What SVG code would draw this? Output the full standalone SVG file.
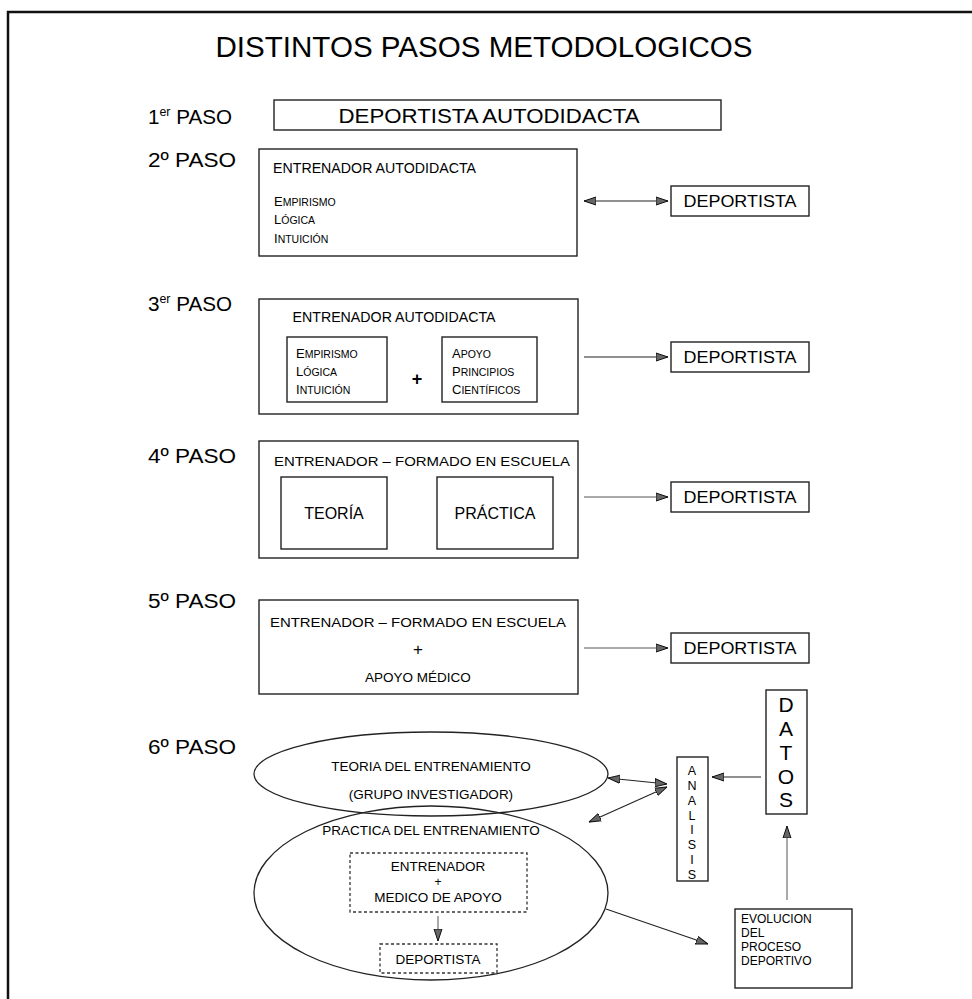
<svg xmlns="http://www.w3.org/2000/svg" width="972" height="999" viewBox="0 0 972 999">
<defs>
<style>
text{font-family:"Liberation Sans",Arial,sans-serif;fill:#000}
.box{fill:#fff;stroke:#222;stroke-width:1.4}
.dbox{fill:#fff;stroke:#333;stroke-width:1.3;stroke-dasharray:3,2.5}
.lbl{font-size:20px}
.con{stroke:#222;stroke-width:1.1;fill:none}
.gcon{stroke:#555;stroke-width:1;fill:none}
.ell{fill:none;stroke:#222;stroke-width:1.3}
.c{text-anchor:middle}
</style>
<marker id="ah" viewBox="0 0 12 10" refX="12" refY="5" markerWidth="12" markerHeight="10" markerUnits="userSpaceOnUse" orient="auto-start-reverse">
<path d="M0,1 L12,5 L0,9 z" fill="#666" stroke="#111" stroke-width="1"/>
</marker>
</defs>
<rect width="972" height="999" fill="#fff"/>
<path d="M8,999 V12 H972" fill="none" stroke="#111" stroke-width="2.5"/>
<text x="484" y="57" class="c" font-size="29" textLength="537" lengthAdjust="spacingAndGlyphs">DISTINTOS PASOS METODOLOGICOS</text>

<g id="paso1">
<text x="148" y="124" class="lbl" textLength="84" lengthAdjust="spacingAndGlyphs">1<tspan font-size="12" dy="-8">er</tspan><tspan dy="8"> PASO</tspan></text>
<rect class="box" x="274" y="100" width="447" height="30"/>
<text x="489" y="123" class="c" font-size="20" textLength="301" lengthAdjust="spacingAndGlyphs">DEPORTISTA AUTODIDACTA</text>
</g>

<g id="paso2">
<text x="148" y="167" class="lbl" textLength="88" lengthAdjust="spacingAndGlyphs">2º PASO</text>
<rect class="box" x="259" y="149" width="318" height="107"/>
<text x="273" y="173" font-size="14" textLength="203" lengthAdjust="spacingAndGlyphs">ENTRENADOR AUTODIDACTA</text>
<text x="274" y="206" font-size="13">E<tspan font-size="10.5">MPIRISMO</tspan></text>
<text x="274" y="224" font-size="13">L<tspan font-size="10.5">ÓGICA</tspan></text>
<text x="274" y="243" font-size="13">I<tspan font-size="10.5">NTUICIÓN</tspan></text>
</g>
<g id="dep2">
<rect class="box" x="671" y="186" width="138" height="30"/>
<text x="740" y="207" class="c" font-size="16" textLength="113" lengthAdjust="spacingAndGlyphs">DEPORTISTA</text>
</g>

<g id="paso3">
<text x="148" y="311" class="lbl" textLength="84" lengthAdjust="spacingAndGlyphs">3<tspan font-size="12" dy="-8">er</tspan><tspan dy="8"> PASO</tspan></text>
<rect class="box" x="259" y="299" width="319" height="115"/>
<text x="394" y="322" class="c" font-size="14" textLength="203" lengthAdjust="spacingAndGlyphs">ENTRENADOR AUTODIDACTA</text>
<rect class="box" x="287" y="337" width="100" height="65"/>
<text x="296" y="358" font-size="13">E<tspan font-size="10.5">MPIRISMO</tspan></text>
<text x="296" y="376" font-size="13">L<tspan font-size="10.5">ÓGICA</tspan></text>
<text x="296" y="394" font-size="13">I<tspan font-size="10.5">NTUICIÓN</tspan></text>
<text x="417" y="385" class="c" font-size="18" font-weight="bold">+</text>
<rect class="box" x="442" y="337" width="95" height="65"/>
<text x="452" y="358" font-size="13">A<tspan font-size="10.5">POYO</tspan></text>
<text x="452" y="376" font-size="13">P<tspan font-size="10.5">RINCIPIOS</tspan></text>
<text x="452" y="394" font-size="13">C<tspan font-size="10.5">IENTÍFICOS</tspan></text>
</g>
<g id="dep3">
<rect class="box" x="671" y="342" width="138" height="30"/>
<text x="740" y="363" class="c" font-size="16" textLength="113" lengthAdjust="spacingAndGlyphs">DEPORTISTA</text>
</g>

<g id="paso4">
<text x="148" y="463" class="lbl" textLength="88" lengthAdjust="spacingAndGlyphs">4º PASO</text>
<rect class="box" x="259" y="441" width="319" height="117"/>
<text x="274" y="466" font-size="13.5" textLength="296" lengthAdjust="spacingAndGlyphs">ENTRENADOR – FORMADO EN ESCUELA</text>
<rect class="box" x="281" y="477" width="106" height="72"/>
<text x="334" y="519" class="c" font-size="16">TEORÍA</text>
<rect class="box" x="437" y="477" width="116" height="72"/>
<text x="495" y="519" class="c" font-size="16">PRÁCTICA</text>
</g>
<g id="dep4">
<rect class="box" x="671" y="482" width="138" height="30"/>
<text x="740" y="503" class="c" font-size="16" textLength="113" lengthAdjust="spacingAndGlyphs">DEPORTISTA</text>
</g>

<g id="paso5">
<text x="148" y="608" class="lbl" textLength="88" lengthAdjust="spacingAndGlyphs">5º PASO</text>
<rect class="box" x="259" y="600" width="319" height="94"/>
<text x="418" y="627" class="c" font-size="13.5" textLength="296" lengthAdjust="spacingAndGlyphs">ENTRENADOR – FORMADO EN ESCUELA</text>
<text x="418" y="655" class="c" font-size="17">+</text>
<text x="418" y="682" class="c" font-size="13.5">APOYO MÉDICO</text>
</g>
<g id="dep5">
<rect class="box" x="671" y="633" width="138" height="30"/>
<text x="740" y="654" class="c" font-size="16" textLength="113" lengthAdjust="spacingAndGlyphs">DEPORTISTA</text>
</g>

<g id="paso6">
<text x="148" y="754" class="lbl" textLength="88" lengthAdjust="spacingAndGlyphs">6º PASO</text>
</g>
<g id="teoria">
<ellipse class="ell" cx="431" cy="774" rx="177" ry="42"/>
<text x="431" y="771" class="c" font-size="13.5">TEORIA DEL ENTRENAMIENTO</text>
<text x="431" y="799" class="c" font-size="13.5">(GRUPO INVESTIGADOR)</text>
</g>
<g id="practica">
<ellipse class="ell" cx="431" cy="893" rx="177" ry="87"/>
<text x="431" y="835" class="c" font-size="13.5">PRACTICA DEL ENTRENAMIENTO</text>
</g>
<g id="entrenador6">
<rect class="dbox" x="350" y="853" width="177" height="59"/>
<text x="438" y="871" class="c" font-size="13.5">ENTRENADOR</text>
<text x="438" y="886" class="c" font-size="12">+</text>
<text x="438" y="902" class="c" font-size="13.5">MEDICO DE APOYO</text>
</g>
<g id="dep6">
<rect class="dbox" x="380" y="944" width="117" height="29"/>
<text x="438" y="964" class="c" font-size="13.5">DEPORTISTA</text>
</g>
<g id="analisis">
<rect class="box" x="677" y="757" width="31" height="124"/>
<g font-size="12.5">
<text x="692" y="775" class="c">A</text>
<text x="692" y="790" class="c">N</text>
<text x="692" y="805" class="c">A</text>
<text x="692" y="820" class="c">L</text>
<text x="692" y="834" class="c">I</text>
<text x="692" y="849" class="c">S</text>
<text x="692" y="864" class="c">I</text>
<text x="692" y="879" class="c">S</text>
</g>
</g>
<g id="datos">
<rect class="box" x="766" y="690" width="41" height="124"/>
<text x="786" y="712" class="c" font-size="21">D</text>
<text x="786" y="736" class="c" font-size="21">A</text>
<text x="786" y="760" class="c" font-size="21">T</text>
<text x="786" y="784" class="c" font-size="21">O</text>
<text x="786" y="807" class="c" font-size="21">S</text>
</g>
<g id="evolucion">
<rect class="box" x="735" y="909" width="117" height="79"/>
<text x="741" y="923" font-size="12">EVOLUCION</text>
<text x="741" y="937" font-size="12">DEL</text>
<text x="741" y="951" font-size="12">PROCESO</text>
<text x="741" y="965" font-size="12">DEPORTIVO</text>
</g>

<g id="connectors">
<line class="con" x1="584" y1="201" x2="668" y2="201" marker-start="url(#ah)" marker-end="url(#ah)"/>
<line class="con" x1="584" y1="357" x2="668" y2="357" marker-end="url(#ah)"/>
<line class="gcon" x1="584" y1="497" x2="668" y2="497" marker-end="url(#ah)"/>
<line class="gcon" x1="584" y1="648" x2="668" y2="648" marker-end="url(#ah)"/>
<line class="con" x1="608" y1="778" x2="667" y2="784" marker-start="url(#ah)" marker-end="url(#ah)"/>
<line class="con" x1="589" y1="822" x2="667" y2="787" marker-start="url(#ah)" marker-end="url(#ah)"/>
<line class="con" x1="761" y1="777" x2="712" y2="777" marker-end="url(#ah)"/>
<line class="con" x1="606" y1="909" x2="708" y2="944" marker-end="url(#ah)"/>
<line class="gcon" x1="787" y1="900" x2="787" y2="826" marker-end="url(#ah)"/>
<line class="gcon" x1="438" y1="916" x2="438" y2="941" marker-end="url(#ah)"/>
</g>
</svg>
